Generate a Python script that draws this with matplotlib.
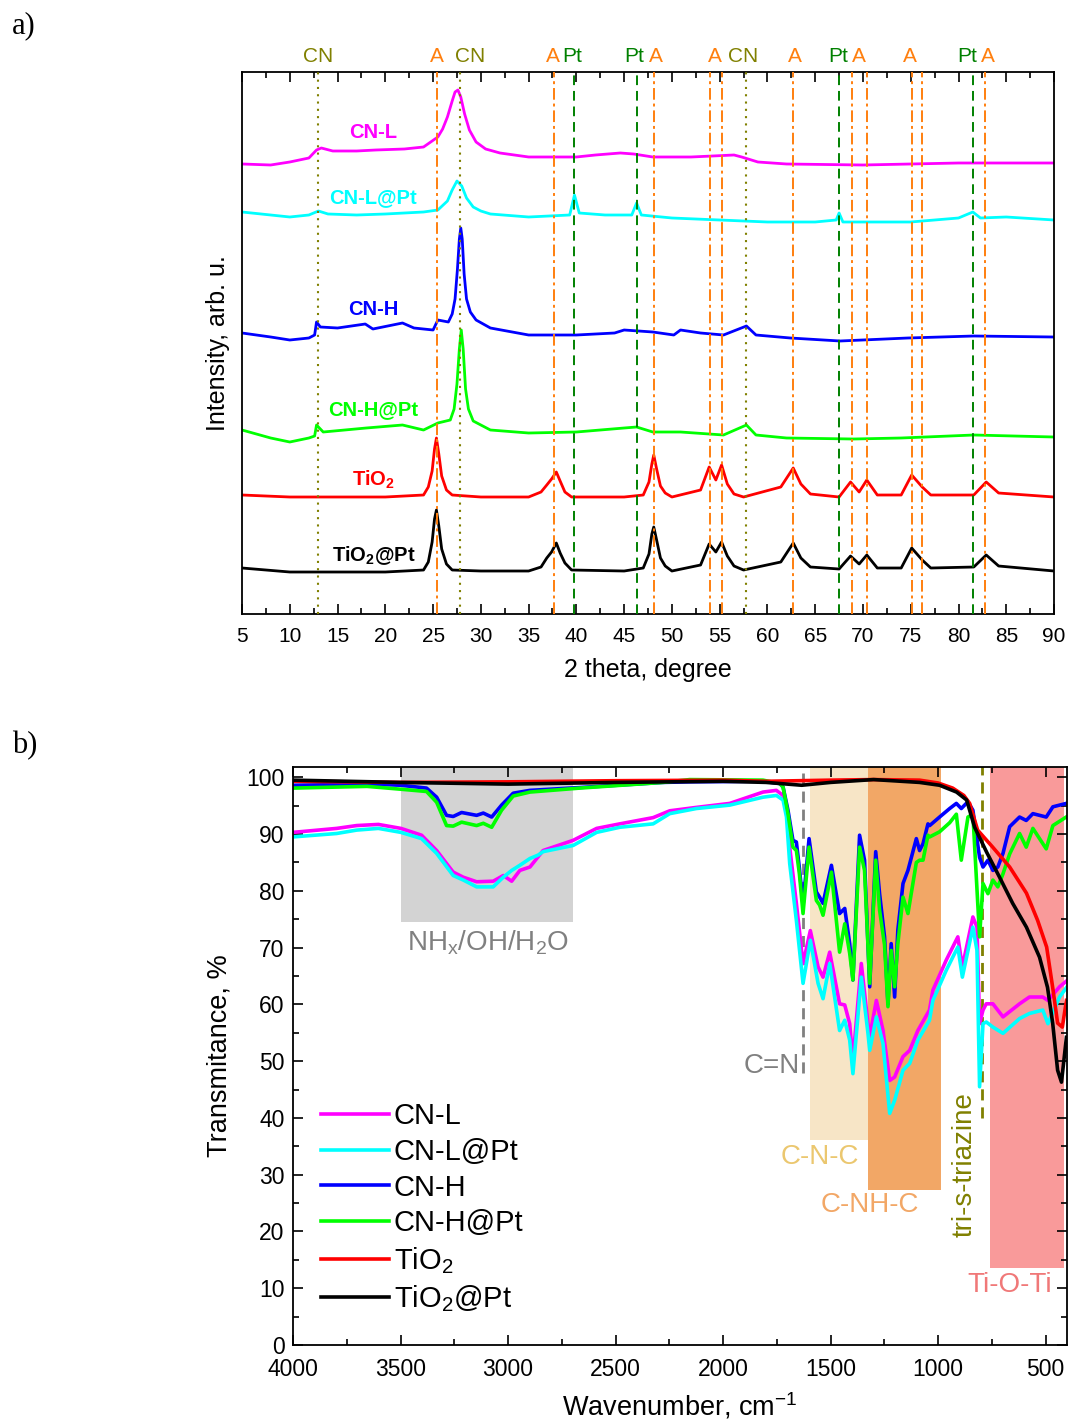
import matplotlib
matplotlib.use('Agg')
import matplotlib.pyplot as plt
import matplotlib.transforms as mtransforms
from matplotlib.ticker import MultipleLocator

plt.rcParams['font.family'] = ['Liberation Sans', 'DejaVu Sans']
plt.rcParams['mathtext.default'] = 'regular'

# ---------------- XRD data (2 theta, intensity arb. u., traces offset) ----------------
xrd_cnl_x = [5, 8, 10, 12, 12.8, 13.3, 14.5, 17, 19, 22, 24, 25.5, 26.0, 26.5, 27.0, 27.3, 27.6, 27.9, 28.3, 28.8,
             29.5, 30.5, 32, 35, 40, 42, 44.6, 46, 48, 52, 56.5, 57.3, 59, 62, 70, 75, 80, 85, 90]
xrd_cnl_y = [450, 449, 452, 456, 464, 466, 463, 463, 464, 465, 467, 477, 485, 497, 513, 522, 524, 517, 500, 484,
             472, 465, 461, 457, 457, 459, 461, 460, 457, 457, 459, 457, 452, 450, 449, 450, 451, 451, 451]

xrd_cnlpt_x = [5, 8, 10, 12, 13, 14, 17, 20, 24, 25.5, 26.5, 27.0, 27.5, 28.0, 28.5, 29.2, 30, 31, 35, 39.3,
               39.8, 40.3, 43, 45.8, 46.3, 46.8, 50, 55, 60, 65, 67.2, 67.5, 67.9, 75, 80, 81.5, 82.3, 85, 90]
xrd_cnlpt_y = [402, 399, 397, 399, 403, 400, 399, 400, 402, 404, 413, 424, 433, 428, 416, 407, 403, 400, 397, 399,
               419, 401, 399, 399, 411, 399, 396, 394, 392, 392, 394, 401, 392, 392, 396, 402, 396, 397, 394]

xrd_cnh_x = [5, 8, 10, 12, 12.6, 12.8, 13.2, 15, 17.9, 18.7, 21.8, 23, 25, 25.5, 26.6, 27.0, 27.3, 27.55, 27.75, 27.9,
             28.05, 28.25, 28.5, 28.9, 29.5, 31, 35, 40, 44, 45, 48, 50.2, 50.9, 53, 55.4, 57.8, 58.8, 62.4, 67.6, 74.7,
             81.6, 90]
xrd_cnh_y = [281, 277, 274, 276, 279, 292, 287, 286, 290, 285, 291, 286, 284, 294, 292, 300, 315, 345, 375, 386,
             375, 340, 315, 302, 294, 286, 279, 279, 281, 284, 282, 279, 284, 281, 279, 288, 279, 276, 273, 276,
             278, 277]

xrd_cnhpt_x = [5, 8, 10, 12, 12.6, 12.8, 13.5, 18, 21.8, 24, 25.5, 26.8, 27.2, 27.5, 27.75, 27.95, 28.15, 28.4, 28.7, 29.2,
               31, 35, 40, 45, 46.3, 48, 50.9, 55.4, 57.8, 58.8, 62, 69, 74, 81.6, 90]
xrd_cnhpt_y = [184, 176, 172, 176, 178, 189, 182, 186, 189, 184, 191, 194, 205, 230, 265, 284, 265, 225, 205, 193,
               184, 181, 182, 186, 187, 182, 182, 179, 189, 179, 176, 175, 176, 179, 177]

xrd_tio2_x = [5, 10, 20, 24, 24.5, 24.9, 25.15, 25.35, 25.6, 25.9, 26.4, 27, 30, 35, 36.3, 36.9, 37.4, 37.9, 38.3, 38.8,
              39.5, 45, 47, 47.6, 47.9, 48.1, 48.4, 48.8, 49.3, 50, 53.0, 53.9, 54.6, 55.2, 55.8, 56.5, 57.5, 61.4, 62.7, 63.5,
              64.5, 67.5, 68.7, 69.6, 70.4, 71.5, 74.0, 75.1, 76.2, 77.1, 81.6, 82.9, 84.2, 90]
xrd_tio2_y = [119, 117, 117, 119, 127, 143, 165, 176, 160, 138, 124, 119, 117, 117, 122, 129, 135, 142, 133, 122,
              117, 117, 119, 132, 150, 159, 145, 128, 121, 117, 124, 147, 134, 149, 130, 120, 117, 127, 146, 130,
              120, 117, 132, 122, 134, 119, 119, 139, 127, 119, 119, 132, 121, 117]
xrd_tio2pt_y = [46, 42, 42, 44, 52, 72, 95, 104, 88, 65, 50, 44, 43, 43, 47, 56, 62, 71, 61, 51,
                44, 43, 46, 60, 80, 87, 74, 56, 48, 43, 49, 70, 62, 72, 58, 48, 44, 52, 71, 56,
                47, 45, 58, 50, 59, 46, 46, 66, 54, 46, 47, 59, 48, 43]

# reference reflections
anatase_pos = [25.4, 37.7, 48.1, 54.0, 55.2, 62.7, 68.9, 70.4, 75.1, 76.2, 82.8]
pt_pos = [39.7, 46.3, 67.5, 81.5]
cn_pos = [13.0, 27.85, 57.8]

# ---------------- FTIR data (wavenumber, transmittance %) ----------------
ir_cnl_wn = [4000, 3797, 3704, 3603, 3498, 3402, 3332, 3255, 3208, 3146, 3069, 3022, 2983, 2945, 2898, 2860, 2837,
             2697, 2588, 2480, 2325, 2248, 2124, 1969, 1814, 1752, 1721, 1705, 1690, 1659, 1628, 1594, 1558, 1535,
             1504, 1458, 1434, 1411, 1396, 1357, 1326, 1318, 1287, 1256, 1225, 1202, 1163, 1132, 1094, 1040, 1024,
             962, 908, 887, 838, 819, 807, 791, 776, 745, 698, 621, 575, 513, 489, 435, 400]
ir_cnl_t = [90.3, 91.0, 91.5, 91.7, 91.0, 89.8, 87.1, 83.3, 82.4, 81.6, 81.7, 82.7, 81.7, 83.6, 84.2, 86.0, 87.1,
            88.9, 91.0, 91.8, 92.9, 94.1, 94.7, 95.4, 97.4, 97.7, 96.8, 94.5, 87.7, 77.8, 67.2, 73.0, 66.6, 64.8,
            69.2, 60.1, 59.9, 56.6, 50.2, 67.2, 56.6, 54.3, 60.7, 55.4, 46.6, 47.2, 50.8, 51.9, 55.4, 59.0, 62.5,
            67.8, 71.9, 66.6, 75.4, 73.6, 56.6, 59.0, 60.1, 60.1, 57.8, 60.1, 61.3, 61.3, 60.7, 63.1, 64.2]
ir_cnlpt_t = [89.5, 90.1, 90.7, 91.0, 90.3, 89.2, 86.6, 82.7, 81.9, 80.7, 80.7, 82.4, 83.6, 84.5, 85.7, 86.3, 86.9,
              88.0, 90.3, 91.2, 91.8, 93.6, 94.5, 95.1, 96.5, 96.8, 96.0, 93.0, 84.8, 74.8, 63.7, 71.3, 63.7, 61.0,
              67.2, 55.4, 57.2, 53.7, 47.8, 64.8, 54.9, 51.9, 57.8, 53.1, 40.8, 43.1, 48.4, 49.6, 53.7, 57.2, 60.7,
              66.0, 70.1, 64.8, 73.6, 69.5, 45.5, 56.6, 56.9, 56.0, 54.9, 57.5, 58.4, 59.0, 56.6, 61.3, 63.1]

ir_cnh_wn = [3998, 3656, 3498, 3379, 3332, 3286, 3255, 3216, 3146, 3115, 3076, 3030, 2976, 2898, 2666, 2279, 2155,
             1814, 1736, 1721, 1698, 1675, 1659, 1645, 1628, 1600, 1566, 1551, 1535, 1496, 1458, 1434, 1411, 1396,
             1365, 1342, 1318, 1290, 1272, 1249, 1233, 1218, 1202, 1187, 1163, 1140, 1101, 1086, 1070, 1047, 1039,
             993, 946, 915, 892, 861, 838, 807, 791, 768, 745, 722, 698, 667, 621, 590, 559, 497, 466, 404]
ir_cnh_t = [98.6, 98.8, 98.6, 98.1, 96.5, 93.3, 93.1, 93.8, 93.3, 93.7, 93.0, 95.1, 97.2, 97.7, 98.2, 99.1, 99.2,
            99.3, 98.9, 98.3, 94.2, 88.9, 88.6, 84.0, 77.5, 89.2, 79.8, 78.9, 77.8, 84.5, 76.0, 76.9, 70.7, 64.3,
            89.8, 85.4, 63.1, 86.9, 79.5, 71.9, 60.1, 70.7, 61.3, 73.1, 81.3, 83.6, 89.2, 87.1, 88.3, 91.8, 91.5,
            93.0, 94.5, 95.4, 94.5, 95.7, 94.2, 85.9, 84.2, 85.4, 83.6, 84.2, 86.6, 91.3, 93.0, 92.4, 93.6, 93.0, 94.8, 95.4]
ir_cnhpt_t = [98.1, 98.4, 97.9, 97.5, 95.6, 91.5, 91.4, 92.1, 91.5, 91.9, 91.2, 94.2, 96.7, 97.4, 98.1, 99.1, 99.6,
              99.5, 98.9, 98.3, 93.6, 87.7, 87.1, 83.0, 76.0, 87.7, 78.3, 77.5, 75.7, 83.3, 69.2, 74.2, 69.0, 64.3,
              87.7, 83.6, 63.7, 85.4, 76.6, 70.5, 59.6, 69.5, 63.1, 70.7, 78.9, 76.0, 85.0, 85.4, 85.4, 89.8, 89.5,
              90.4, 92.0, 93.5, 85.4, 93.0, 93.5, 71.9, 81.3, 79.5, 81.9, 80.7, 83.0, 86.5, 90.1, 87.7, 91.0, 87.4, 91.5, 93.0]

ir_tio2_wn = [4000, 3500, 3000, 2500, 2000, 1800, 1500, 1300, 1086, 1000, 932, 880, 853, 816, 746, 667, 589, 537,
              495, 467, 444, 422, 403]
ir_tio2_t = [99.3, 99.1, 99.2, 99.4, 99.5, 99.3, 99.5, 99.6, 99.5, 99.0, 98.1, 96.8, 95.4, 90.7, 87.7, 84.2, 79.6,
             74.8, 70.1, 63.0, 56.7, 56.0, 60.7]
ir_tio2pt_wn = [4000, 3500, 3000, 2500, 2000, 1800, 1634, 1500, 1300, 1086, 993, 914, 867, 830, 774, 714, 653, 589,
                528, 491, 467, 444, 426, 403]
ir_tio2pt_t = [99.5, 99.1, 98.8, 99.1, 99.3, 99.1, 98.6, 99.1, 99.6, 99.1, 98.6, 97.4, 96.0, 91.2, 86.8, 82.4, 77.8,
               73.6, 68.3, 63.0, 56.7, 48.4, 46.3, 54.2]

names = ['CN-L', 'CN-L@Pt', 'CN-H', 'CN-H@Pt', 'TiO$_2$', 'TiO$_2$@Pt']
colors = ['#FF00FF', '#00FFFF', '#0000FF', '#00FF00', '#FF0000', '#000000']

a_col = '#FF7F0E'
pt_col = '#008000'
cn_col = '#808000'

fig = plt.figure(figsize=(10.69, 14.2), dpi=100)

# ================= a) XRD =================
ax1 = fig.add_axes([0.2264, 0.5676, 0.7596, 0.3817])
xrd = [(xrd_cnl_x, xrd_cnl_y), (xrd_cnlpt_x, xrd_cnlpt_y), (xrd_cnh_x, xrd_cnh_y),
       (xrd_cnhpt_x, xrd_cnhpt_y), (xrd_tio2_x, xrd_tio2_y), (xrd_tio2_x, xrd_tio2pt_y)]
for (x, y), c in zip(xrd, colors):
    ax1.plot(x, y, color=c, lw=2.0, zorder=2)

for p in anatase_pos:
    ax1.axvline(p, color=a_col, ls=(0, (6, 2, 1.5, 2)), lw=1.4, zorder=3)
for p in pt_pos:
    ax1.axvline(p, color=pt_col, ls=(0, (5, 3)), lw=1.4, zorder=3)
for p in cn_pos:
    ax1.axvline(p, color=cn_col, ls=(0, (1, 2.5)), lw=1.5, zorder=3)

trans = mtransforms.blended_transform_factory(ax1.transData, ax1.transAxes)
top_labels = [('CN', 13.0, cn_col), ('A', 25.4, a_col), ('CN', 28.9, cn_col), ('A', 37.5, a_col),
              ('Pt', 39.6, pt_col), ('Pt', 46.1, pt_col), ('A', 48.3, a_col), ('A', 54.5, a_col),
              ('CN', 57.5, cn_col), ('A', 62.9, a_col), ('Pt', 67.4, pt_col), ('A', 69.6, a_col),
              ('A', 74.9, a_col), ('Pt', 80.9, pt_col), ('A', 83.1, a_col)]
for txt, x, c in top_labels:
    ax1.text(x, 1.028, txt, transform=trans, ha='center', va='center', fontsize=15, color=c, clip_on=False)

trace_label_y = [481, 416, 305, 204, 134, 58]
for name, c, y in zip(names, colors, trace_label_y):
    ax1.text(18.75, y, name, color=c, fontsize=14.5, fontweight='bold', ha='center', va='center')

ax1.set_xlim(5, 90)
ax1.set_ylim(0, 542)
ax1.xaxis.set_major_locator(MultipleLocator(5))
ax1.xaxis.set_minor_locator(MultipleLocator(2.5))
ax1.tick_params(axis='x', which='both', direction='in', top=True, labelsize=15, width=1.2, pad=9)
ax1.tick_params(axis='x', which='major', length=7)
ax1.tick_params(axis='x', which='minor', length=4)
ax1.tick_params(axis='y', left=False, labelleft=False)
for s in ax1.spines.values():
    s.set_linewidth(1.3)
ax1.set_xlabel('2 theta, degree', fontsize=18, labelpad=9)
ax1.set_ylabel('Intensity, arb. u.', fontsize=18)
ax1.yaxis.set_label_coords(-0.015, 0.5)

# ================= b) FTIR =================
ax2 = fig.add_axes([0.2741, 0.0528, 0.7241, 0.4070])

# band regions
ax2.fill_between([3500, 2700], 74.5, 105, color='#D3D3D3', lw=0, zorder=0)
ax2.fill_between([1597, 1327], 36.1, 105, color='#F7E5C6', lw=0, zorder=0)
ax2.fill_between([1327, 988], 27.3, 105, color='#F2A766', lw=0, zorder=0)
ax2.fill_between([760, 416], 13.6, 105, color='#F99A9A', lw=0, zorder=0)
ax2.plot([1630, 1630], [48, 105], color='#808080', ls=(0, (4, 2.5)), lw=2, zorder=1)
ax2.plot([797, 797], [40, 105], color=cn_col, ls=(0, (4, 2.5)), lw=2, zorder=1)

ir = [(ir_cnl_wn, ir_cnl_t), (ir_cnl_wn, ir_cnlpt_t), (ir_cnh_wn, ir_cnh_t),
      (ir_cnh_wn, ir_cnhpt_t), (ir_tio2_wn, ir_tio2_t), (ir_tio2pt_wn, ir_tio2pt_t)]
for (x, y), c, name in zip(ir, colors, names):
    ax2.plot(x, y, color=c, lw=2.6, label=name, zorder=2)

ax2.text(3094, 70.9, 'NH$_x$/OH/H$_2$O', color='#808080', fontsize=20, ha='center', va='center')
ax2.text(1645, 49.1, 'C=N', color='#808080', fontsize=20, ha='right', va='center')
ax2.text(1551, 33.1, 'C-N-C', color='#EBC76F', fontsize=20, ha='center', va='center')
ax2.text(1318, 24.6, 'C-NH-C', color='#F2A766', fontsize=20, ha='center', va='center')
ax2.text(877, 31.7, 'tri-s-triazine', color=cn_col, fontsize=20, ha='center', va='center', rotation=90)
ax2.text(667, 10.6, 'Ti-O-Ti', color='#F07878', fontsize=20, ha='center', va='center')

ax2.set_xlim(4000, 400)
ax2.set_ylim(0, 101.8)
ax2.xaxis.set_major_locator(MultipleLocator(500))
ax2.xaxis.set_minor_locator(MultipleLocator(250))
ax2.yaxis.set_major_locator(MultipleLocator(10))
ax2.yaxis.set_minor_locator(MultipleLocator(5))
ax2.tick_params(which='both', direction='in', top=True, right=True, labelsize=16.5, width=1.2)
ax2.tick_params(axis='x', which='both', pad=9)
ax2.tick_params(axis='y', which='both', pad=6)
ax2.tick_params(which='major', length=7)
ax2.tick_params(which='minor', length=4)
for s in ax2.spines.values():
    s.set_linewidth(1.3)
ax2.set_xlabel('Wavenumber, cm$^{-1}$', fontsize=19.5, labelpad=7)
ax2.set_ylabel('Transmitance, %', fontsize=19.5)
ax2.yaxis.set_label_coords(-0.078, 0.5)

ax2.legend(loc='upper left', bbox_to_anchor=(0.021, 0.44), frameon=False, fontsize=21,
           handlelength=2.35, handletextpad=0.15, labelspacing=0.26, borderaxespad=0)

fig.text(0.011, 0.982, 'a)', fontsize=22, family='Liberation Serif', va='center')
fig.text(0.011, 0.475, 'b)', fontsize=22, family='Liberation Serif', va='center')

fig.savefig('out.png', dpi=100)
